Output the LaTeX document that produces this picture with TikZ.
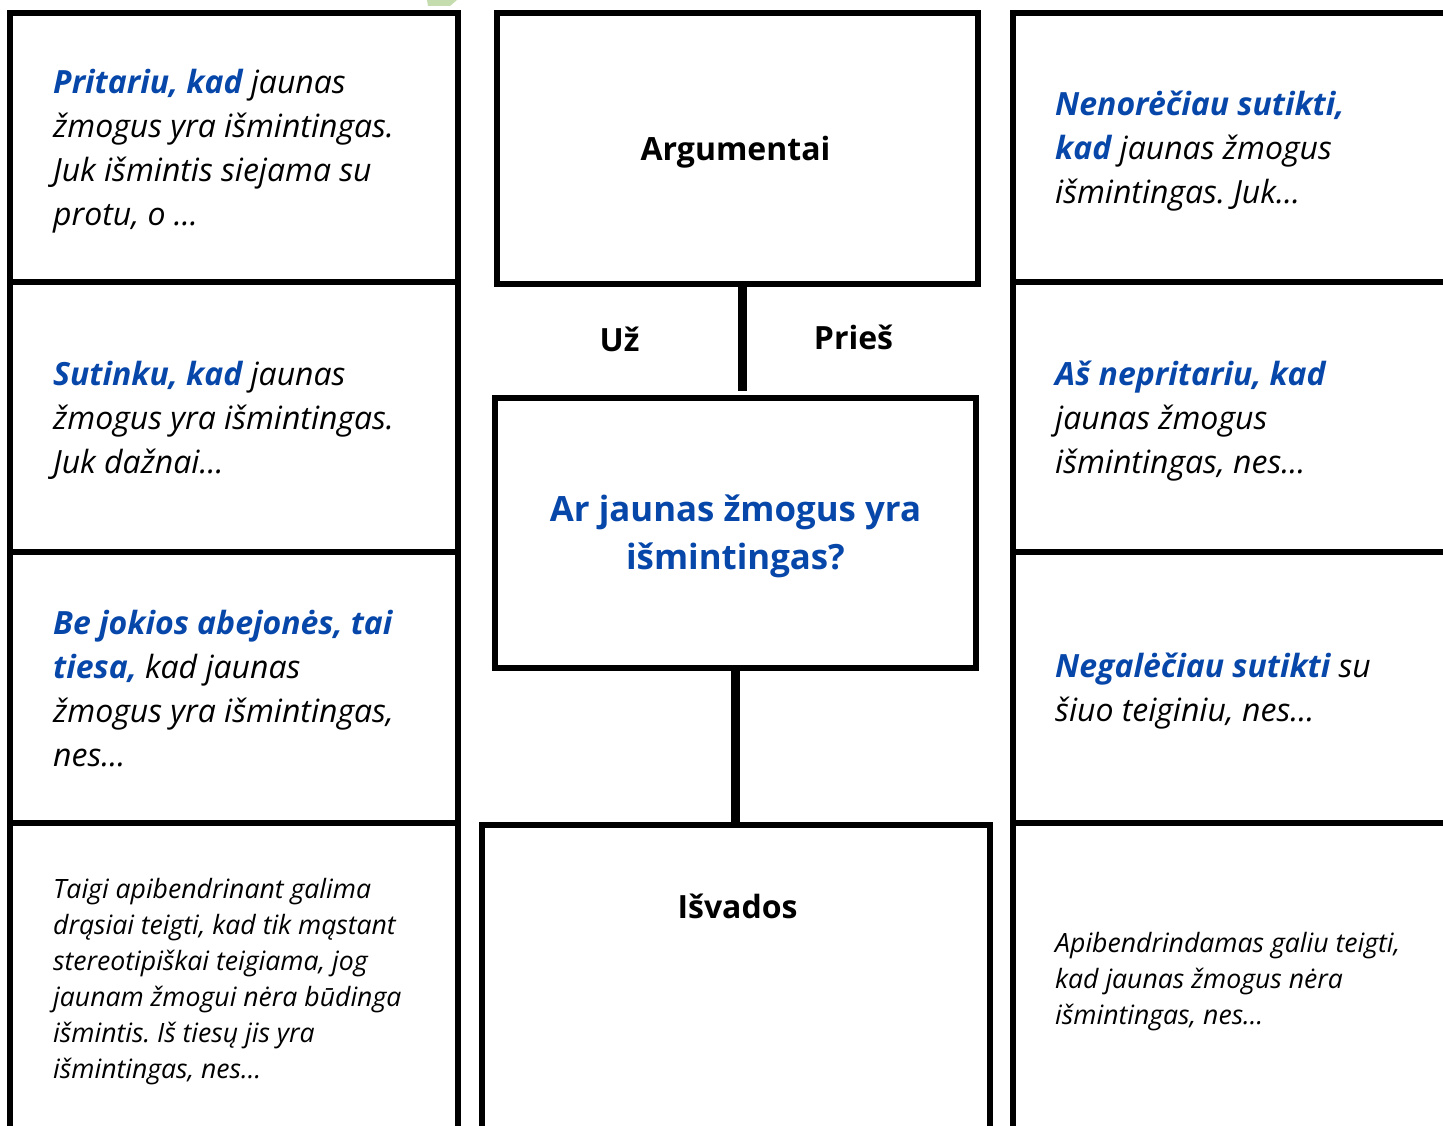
\documentclass[tikz,border=0pt]{standalone}
\usepackage{fontspec}
\setmainfont{Open Sans}
\frenchspacing
\definecolor{qblue}{HTML}{0747A9}
\definecolor{leaf}{HTML}{C5DCAE}
\newcommand{\hl}[1]{\textcolor{qblue}{\textbf{#1}}}
\tikzset{
  cellbox/.style={draw=black,line width=5.5pt,fill=none,inner sep=0pt,outer sep=0pt},
  midbox/.style={draw=black,line width=6pt,fill=none,inner sep=0pt,outer sep=0pt},
  link/.style={draw=black,line width=9pt},
  cellhead/.style={anchor=west,inner sep=0pt,align=left,font=\fontsize{32}{44}\selectfont\itshape},
  cellsmall/.style={anchor=west,inner sep=0pt,align=left,font=\fontsize{26.6}{36}\selectfont\itshape},
  title/.style={inner sep=0pt,font=\fontsize{32}{44}\selectfont\bfseries},
}
\begin{document}
\begin{tikzpicture}[x=1pt,y=-1pt]
\useasboundingbox (0,0) rectangle (1443,1126);
\clip (0,0) rectangle (1443,1126);
\fill[leaf] (427,0) -- (457,0) -- (450,6) -- (428,6) -- cycle;
% left column
\node[cellbox,minimum width=448pt,minimum height=269pt] (l1) at (234,147.5) {};
\node[cellbox,minimum width=448pt,minimum height=270pt] (l2) at (234,417) {};
\node[cellbox,minimum width=448pt,minimum height=271pt] (l3) at (234,687.5) {};
\node[cellbox,minimum width=448pt,minimum height=360pt] (l4) at (234,1003) {};
% right column
\node[cellbox,minimum width=460pt,minimum height=269pt] (r1) at (1243,147.5) {};
\node[cellbox,minimum width=460pt,minimum height=270pt] (r2) at (1243,417) {};
\node[cellbox,minimum width=460pt,minimum height=271pt] (r3) at (1243,687.5) {};
\node[cellbox,minimum width=460pt,minimum height=360pt] (r4) at (1243,1003) {};
% middle
\node[midbox,minimum width=481pt,minimum height=271pt] (arg) at (737.5,148.5) {};
\node[midbox,minimum width=481pt,minimum height=270pt] (q) at (735.5,533) {};
\node[midbox,minimum width=508pt,minimum height=360pt] (isv) at (736,1005) {};
\coordinate (argfoot) at (742.5,284);
\coordinate (qhead) at (742.5,391);
\draw[link] (argfoot) -- (qhead);
\draw[link] (q.south) -- (q.south |- isv.north);
% middle labels
\node[title] (argt) at (735.5,152) {Argumentai};
\node[title] (uz) at (619.5,339) {Už};
\node[title] (pries) at (853.5,337) {Prieš};
\node[inner sep=0pt,align=center,text=qblue,font=\fontsize{34.8}{48}\selectfont\bfseries] (qt) at (735.5,536) {Ar jaunas žmogus yra\\išmintingas?};
\node[title] (isvt) at (737.5,906) {Išvados};
% left texts
\node[cellhead] (lt1) at (53,151) {\hl{Pritariu, kad} jaunas\\žmogus yra išmintingas.\\Juk išmintis siejama su\\protu, o ...};
\node[cellhead] (lt2) at (53,420) {\hl{Sutinku, kad} jaunas\\žmogus yra išmintingas.\\Juk dažnai...};
\node[cellhead] (lt3) at (53,688.5) {\hl{Be jokios abejonės, tai}\\\hl{tiesa,} kad jaunas\\žmogus yra išmintingas,\\nes...};
\node[cellsmall] (lt4) at (53,982) {Taigi apibendrinant galima\\drąsiai teigti, kad tik mąstant\\stereotipiškai teigiama, jog\\jaunam žmogui nėra būdinga\\išmintis. Iš tiesų jis yra\\išmintingas, nes...};
% right texts
\node[cellhead] (rt1) at (1055,151) {\hl{Nenorėčiau sutikti,}\\\hl{kad} jaunas žmogus\\išmintingas. Juk...};
\node[cellhead] (rt2) at (1055,421) {\hl{Aš nepritariu, kad}\\jaunas žmogus\\išmintingas, nes...};
\node[cellhead] (rt3) at (1055,691) {\hl{Negalėčiau sutikti} su\\šiuo teiginiu, nes...};
\node[cellsmall] (rt4) at (1055,982) {Apibendrindamas galiu teigti,\\kad jaunas žmogus nėra\\išmintingas, nes...};
\end{tikzpicture}
\end{document}
